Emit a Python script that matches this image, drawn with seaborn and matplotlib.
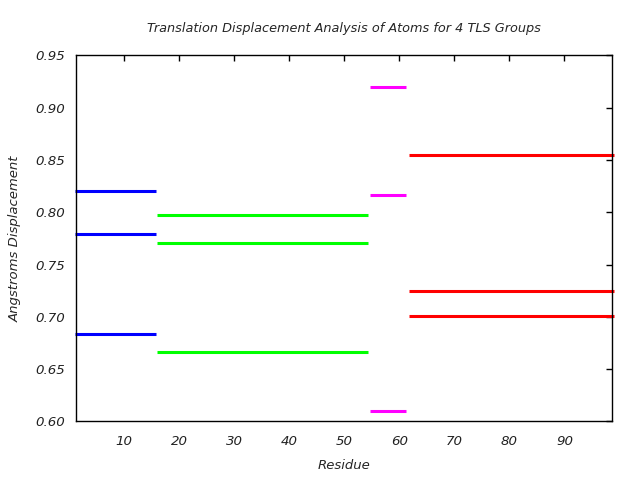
import matplotlib
matplotlib.use("Agg")
import matplotlib.pyplot as plt
import seaborn as sns
import pandas as pd

groups = ["A", "B", "C", "D"]
colors = ["#0000ff", "#00ff00", "#ff00ff", "#ff0000"]
seg_start = [1.03, 15.9, 54.67, 61.8]
seg_end = [15.8, 54.25, 61.2, 99.0]
values = [
    [0.8206, 0.779, 0.6835],
    [0.797, 0.7707, 0.666],
    [0.9195, 0.8163, 0.6098],
    [0.8545, 0.7246, 0.7007],
]
xticks = [10, 20, 30, 40, 50, 60, 70, 80, 90]
yticks = [0.60, 0.65, 0.70, 0.75, 0.80, 0.85, 0.90, 0.95]

rows = []
seg = 0
for g, s, e, vals in zip(groups, seg_start, seg_end, values):
    for v in vals:
        rows.append({"x": s, "y": v, "group": g, "seg": seg})
        rows.append({"x": e, "y": v, "group": g, "seg": seg})
        seg += 1
df = pd.DataFrame(rows)

sns.set_style("white")
plt.rcParams["font.family"] = ["DejaVu Sans"]

fig = plt.figure(figsize=(6.4, 4.8), dpi=100)
ax = fig.add_axes([0.1192, 0.1219, 0.9567 - 0.1192, 0.8846 - 0.1219])
sns.lineplot(data=df, x="x", y="y", hue="group", units="seg", estimator=None,
             palette=dict(zip(groups, colors)), linewidth=2.2, legend=False,
             ax=ax)
for line in ax.get_lines():
    line.set_clip_on(False)
    line.set_solid_capstyle("butt")

ax.set_xlim(1.27, 98.7)
ax.set_ylim(0.60, 0.95)
ax.set_xticks(xticks)
ax.set_xticklabels([str(t) for t in xticks], fontstyle="italic", fontsize=9.6)
ax.set_yticks(yticks)
ax.set_yticklabels([f"{t:.2f}" for t in yticks], fontstyle="italic", fontsize=9.6)
ax.tick_params(direction="in", top=True, right=True, length=4, width=1, colors="black",
               labelcolor="#222222")
ax.tick_params(axis="x", pad=10)
ax.tick_params(axis="y", pad=8)
for sp in ax.spines.values():
    sp.set_color("black")
    sp.set_linewidth(1)
ax.set_xlabel("Residue", fontstyle="italic", fontsize=9.5, labelpad=8)
ax.set_ylabel("Angstroms Displacement", fontstyle="italic", fontsize=9.5, labelpad=10)
ax.set_title("Translation Displacement Analysis of Atoms for 4 TLS Groups",
             fontstyle="italic", fontsize=9.3, pad=17)
fig.savefig("out.png", dpi=100)
